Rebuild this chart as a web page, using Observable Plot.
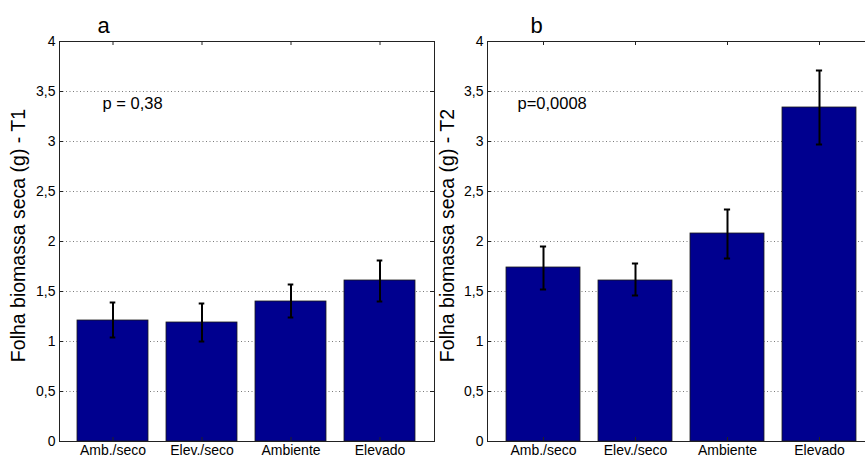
<!DOCTYPE html>
<html>
<head>
<meta charset="utf-8">
<script src="https://cdn.jsdelivr.net/npm/d3@7"></script>
<script src="https://cdn.jsdelivr.net/npm/@observablehq/plot@0.6"></script>
<style>
  html, body { margin: 0; padding: 0; background: #fff; }
  #wrap { position: relative; width: 865px; height: 459px; overflow: hidden; background: #fff; }
  #pa, #pb { position: absolute; top: 0; }
  #pa { left: 0; width: 440px; }
  #pb { left: 430px; width: 445px; }
  #wrap svg { max-width: none !important; font-family: Arial, "Liberation Sans", sans-serif; }
</style>
</head>
<body>
<div id="wrap"><div id="pa"></div><div id="pb"></div></div>
<script>
const categories = ["Amb./seco", "Elev./seco", "Ambiente", "Elevado"];

// Panel a (T1)
const valuesA = [1.21, 1.19, 1.40, 1.61];
const lowA    = [1.04, 1.00, 1.24, 1.40];
const highA   = [1.39, 1.38, 1.57, 1.81];

// Panel b (T2)
const valuesB = [1.74, 1.61, 2.08, 3.34];
const lowB    = [1.52, 1.46, 1.83, 2.97];
const highB   = [1.95, 1.78, 2.32, 3.71];

const yTicks = [0, 0.5, 1, 1.5, 2, 2.5, 3, 3.5, 4];
const yTickLabels = ["0", "0,5", "1", "1,5", "2", "2,5", "3", "3,5", "4"];
const gridTicks = [0.5, 1, 1.5, 2, 2.5, 3, 3.5];

const panelTitles = ["a", "b"];
const pTexts = ["p = 0,38", "p=0,0008"];
const yLabels = ["Folha biomassa seca (g) - T1", "Folha biomassa seca (g) - T2"];

function panel({values, low, high, title, ptext, ylabel, width, marginLeft, marginRight, capInset, pdx, tdx, ldx}) {
  const data = categories.map((c, i) => ({cat: c, val: values[i], lo: low[i], hi: high[i]}));
  const plotW = width - marginLeft - marginRight;
  const plotH = 400;
  return Plot.plot({
    width, height: 459,
    marginLeft, marginRight, marginTop: 41, marginBottom: 18,
    style: {fontFamily: "Arial, 'Liberation Sans', sans-serif", background: "transparent", overflow: "visible", maxWidth: "none"},
    x: {type: "band", domain: categories, paddingInner: 0.2, paddingOuter: 0.2, label: null},
    y: {domain: [0, 4], label: null},
    marks: [
      Plot.gridY(gridTicks, {stroke: "#7a7a7a", strokeOpacity: 1, strokeDasharray: "1,2.5", strokeWidth: 1}),
      Plot.barY(data, {x: "cat", y: "val", fill: "#00008f", stroke: "#1a1a1a", strokeWidth: 0.8}),
      Plot.ruleX(data, {x: "cat", y1: "lo", y2: "hi", stroke: "#000", strokeWidth: 2}),
      Plot.tickY(data, {x: "cat", y: "hi", stroke: "#000", strokeWidth: 2, insetLeft: capInset, insetRight: capInset}),
      Plot.tickY(data, {x: "cat", y: "lo", stroke: "#000", strokeWidth: 2, insetLeft: capInset, insetRight: capInset}),
      // inward ticks
      Plot.tickY(yTicks, {y: d => d, stroke: "#222", insetRight: plotW - 4}),
      Plot.tickY(yTicks, {y: d => d, stroke: "#222", insetLeft: plotW - 4}),
      Plot.tickX(categories, {x: d => d, stroke: "#222", insetBottom: plotH - 4}),
      Plot.tickX(categories, {x: d => d, stroke: "#222", insetTop: plotH - 4}),
      Plot.frame({stroke: "#222", strokeWidth: 1}),
      Plot.axisY(yTicks, {tickSize: 0, tickPadding: 4, fontSize: 14, fill: "#000", tickFormat: d => yTickLabels[yTicks.indexOf(d)]}),
      Plot.axisX({tickSize: 0, tickPadding: 4, fontSize: 14, fill: "#000", label: null}),
      Plot.text([ptext], {frameAnchor: "top-left", text: d => d, dx: pdx, dy: 62, lineAnchor: "middle", textAnchor: "start", fontSize: 16.5, fill: "#000"}),
      Plot.text([title], {frameAnchor: "top-left", text: d => d, dx: tdx, dy: -9, lineAnchor: "bottom", textAnchor: "start", fontSize: 22, fill: "#000"}),
      Plot.text([ylabel], {frameAnchor: "left", text: d => d, dx: ldx, dy: -6, rotate: -90, textAnchor: "middle", fontSize: 19.5, fill: "#000"})
    ]
  });
}

document.getElementById("pa").appendChild(panel({
  values: valuesA, low: lowA, high: highA,
  title: panelTitles[0], ptext: pTexts[0], ylabel: yLabels[0],
  width: 440, marginLeft: 59, marginRight: 6, capInset: 32.7, pdx: 43, tdx: 38, ldx: -41
}));
document.getElementById("pb").appendChild(panel({
  values: valuesB, low: lowB, high: highB,
  title: panelTitles[1], ptext: pTexts[1], ylabel: yLabels[1],
  width: 445, marginLeft: 57, marginRight: 0.5, capInset: 33.9, pdx: 30, tdx: 43, ldx: -40
}));
</script>
</body>
</html>
